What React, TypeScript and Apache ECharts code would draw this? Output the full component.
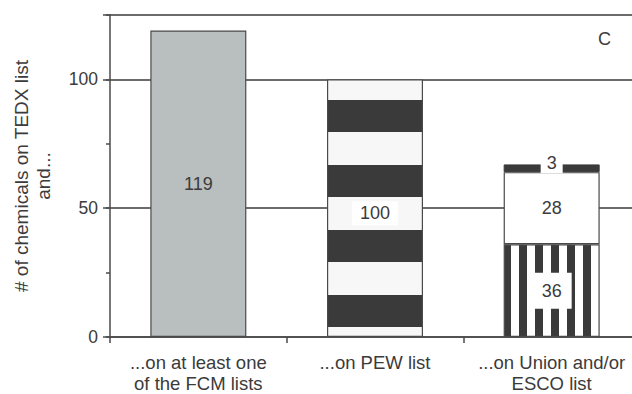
import React, { useEffect, useRef } from "react";
import * as echarts from "echarts";

const categories = [
  "...on at least one\nof the FCM lists",
  "...on PEW list",
  "...on Union and/or\nESCO list",
];
// bottom segment of each column
const baseValues = [119, 100, 36];
// Union and/or ESCO column: middle and top segments
const middleValues: (number | string)[] = ["-", "-", 28];
const topValues: (number | string)[] = ["-", "-", 3];
const yMax = 125;
const yLabelTicks = [0, 50, 100];
const panelLetter = "C";

const FONT = "'Liberation Sans', Arial, Helvetica, sans-serif";
const TEXT = "#3b3b3b";
const DARK = "#3a3a3a";
const LINE = "#4a4a4a";

function makeHPattern() {
  const c = document.createElement("canvas");
  c.width = 8;
  c.height = 65;
  const ctx = c.getContext("2d")!;
  ctx.fillStyle = "#f7f7f7";
  ctx.fillRect(0, 0, 8, 65);
  ctx.fillStyle = DARK;
  ctx.fillRect(0, 35, 8, 30);
  ctx.fillRect(0, 0, 8, 2);
  return { image: c, repeat: "repeat", imageWidth: 8, imageHeight: 65 } as any;
}

function makeVPattern() {
  const c = document.createElement("canvas");
  c.width = 16;
  c.height = 8;
  const ctx = c.getContext("2d")!;
  ctx.fillStyle = "#ffffff";
  ctx.fillRect(0, 0, 16, 8);
  ctx.fillStyle = DARK;
  ctx.fillRect(7, 0, 8, 8);
  return { image: c, repeat: "repeat", imageWidth: 16, imageHeight: 8 } as any;
}

export default function App() {
  const ref = useRef<HTMLDivElement>(null);
  useEffect(() => {
    if (!ref.current) return;
    const chart = echarts.init(ref.current, undefined, { renderer: "svg" });
    const hPat = makeHPattern();
    const vPat = makeVPattern();
    const labelBase = {
      show: true,
      position: "inside",
      color: TEXT,
      fontFamily: FONT,
      fontSize: 18,
    };
    const baseStyles = [
      { color: "#b9bebe" },
      { color: hPat },
      { color: vPat },
    ];
    const baseLabels = [
      {},
      { offset: [0, 5], backgroundColor: "#ffffff", padding: [3, 8] },
      { backgroundColor: "#ffffff", padding: [9, 10] },
    ];
    chart.setOption({
      animation: false,
      textStyle: { fontFamily: FONT, color: TEXT },
      grid: {
        left: 110,
        top: 15,
        width: 530,
        height: 322,
        containLabel: false,
        outerBoundsMode: "none",
      },
      xAxis: {
        type: "category",
        data: categories,
        axisLine: { show: true, lineStyle: { color: LINE, width: 1.5 } },
        axisTick: { show: true, length: 6, lineStyle: { color: LINE, width: 1.5 } },
        axisLabel: {
          color: TEXT,
          fontFamily: FONT,
          fontSize: 18.5,
          lineHeight: 21,
          margin: 15,
          interval: 0,
        },
        splitLine: { show: false },
      },
      yAxis: [
        {
          type: "value",
          min: 0,
          max: yMax,
          interval: 25,
          axisLine: { show: false },
          axisTick: { show: true, length: 4, lineStyle: { color: LINE, width: 1.5 } },
          axisLabel: { show: false },
          splitLine: { show: false },
        },
        {
          type: "value",
          min: 0,
          max: yMax,
          interval: 50,
          position: "left",
          name: "# of chemicals on TEDX list\nand...",
          nameLocation: "middle",
          nameRotate: 90,
          nameGap: 56,
          nameTextStyle: {
            color: TEXT,
            fontFamily: FONT,
            fontSize: 19,
            lineHeight: 22,
          },
          axisLine: { show: true, lineStyle: { color: LINE, width: 1.5 } },
          axisTick: { show: true, length: 7, lineStyle: { color: LINE, width: 1.5 } },
          axisLabel: {
            color: TEXT,
            fontFamily: FONT,
            fontSize: 17.5,
            margin: 12,
            formatter: (v: number) => (yLabelTicks.includes(v) ? String(v) : ""),
          },
          splitLine: { show: true, lineStyle: { color: DARK, width: 1.5 } },
        },
      ],
      series: [
        {
          type: "bar",
          stack: "col",
          yAxisIndex: 1,
          barWidth: 96,
          itemStyle: { borderColor: LINE, borderWidth: 1.2 },
          data: baseValues.map((v, i) => ({
            value: v,
            itemStyle: { ...baseStyles[i], borderColor: LINE, borderWidth: 1.2 },
            label: { ...labelBase, ...baseLabels[i] },
          })),
        },
        {
          type: "bar",
          stack: "col",
          yAxisIndex: 1,
          barWidth: 96,
          itemStyle: { color: "#ffffff", borderColor: LINE, borderWidth: 1.2 },
          label: { ...labelBase },
          data: middleValues,
        },
        {
          type: "bar",
          stack: "col",
          yAxisIndex: 1,
          barWidth: 96,
          itemStyle: { color: DARK, borderColor: DARK, borderWidth: 1 },
          label: {
            ...labelBase,
            offset: [0, -5],
            backgroundColor: "#ffffff",
            padding: [1, 6],
            lineHeight: 18,
          },
          data: topValues,
        },
      ],
      graphic: [
        {
          type: "text",
          left: 598,
          top: 30,
          style: { text: panelLetter, fill: TEXT, font: `18px ${FONT}` },
        },
      ],
    });
    return () => chart.dispose();
  }, []);
  return (
    <div
      ref={ref}
      style={{ position: "absolute", left: 0, top: 0, width: 632, height: 394 }}
    />
  );
}
